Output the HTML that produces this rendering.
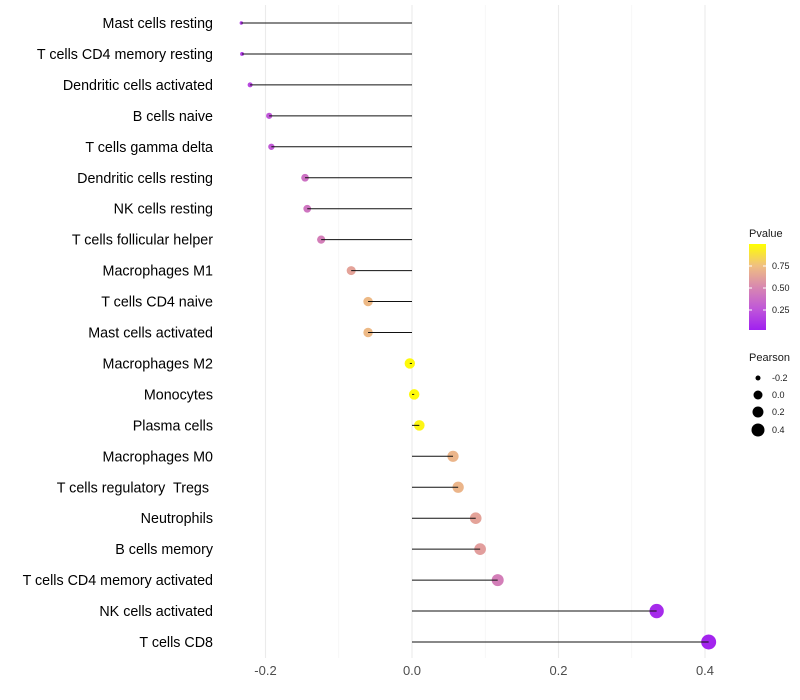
<!DOCTYPE html>
<html><head><meta charset="utf-8"><style>
body{margin:0;background:#fff;font-family:"Liberation Sans",sans-serif}
svg{display:block}
text{white-space:pre}
</style></head><body>
<svg id="chart" width="800" height="700" xmlns="http://www.w3.org/2000/svg">
<defs><linearGradient id="pg" x1="0" y1="1" x2="0" y2="0">
<stop offset="0" stop-color="#a020f0"/><stop offset="0.25" stop-color="#c058d8"/><stop offset="0.5" stop-color="#d888b0"/><stop offset="0.75" stop-color="#f0c080"/><stop offset="1" stop-color="#ffff00"/></linearGradient></defs>
</svg>
<script>
const categories=["Mast cells resting","T cells CD4 memory resting","Dendritic cells activated","B cells naive","T cells gamma delta","Dendritic cells resting","NK cells resting","T cells follicular helper","Macrophages M1","T cells CD4 naive","Mast cells activated","Macrophages M2","Monocytes","Plasma cells","Macrophages M0","T cells regulatory  Tregs ","Neutrophils","B cells memory","T cells CD4 memory activated","NK cells activated","T cells CD8"];
const pearson=[-0.233,-0.232,-0.221,-0.195,-0.192,-0.146,-0.143,-0.124,-0.083,-0.060,-0.060,-0.003,0.003,0.010,0.056,0.063,0.087,0.093,0.117,0.334,0.405];
const pvalue=[0.12,0.12,0.18,0.25,0.26,0.38,0.4,0.45,0.62,0.72,0.72,0.98,0.98,0.96,0.7,0.7,0.62,0.6,0.45,0.05,0.02];
const xTicks=[-0.2,0,0.2,0.4];
const xMinor=[-0.1,0.1,0.3];
const NS="http://www.w3.org/2000/svg";
const svg=document.getElementById('chart');
const X=v=>412+v*732.5;
const Y=i=>23+i*30.95;
const R=v=>1.7+5.8*Math.sqrt(Math.max(0,(v+0.233)/0.638));
const stops=[[0,[160,32,240]],[0.25,[192,88,216]],[0.5,[216,136,176]],[0.75,[240,192,128]],[1,[255,255,0]]];
function col(p){for(let k=0;k<stops.length-1;k++){const a=stops[k],b=stops[k+1];if(p<=b[0]){const t=(p-a[0])/(b[0]-a[0]);return `rgb(${a[1].map((c,j)=>Math.round(c+(b[1][j]-c)*t)).join(',')})`;}}return 'rgb(255,255,0)';}
function el(t,a){const e=document.createElementNS(NS,t);for(const k in a)e.setAttribute(k,a[k]);svg.appendChild(e);return e;}
xMinor.forEach(v=>{const l=el('line',{x1:X(v),x2:X(v),y1:5,y2:658,stroke:'#f3f3f3','stroke-width':0.6});

});
xTicks.forEach(v=>{const l=el('line',{x1:X(v),x2:X(v),y1:5,y2:658,stroke:'#ebebeb','stroke-width':1.1});


const t=el('text',{x:X(v),y:675,'text-anchor':'middle','font-size':13,fill:'#4d4d4d'});t.textContent=v===0?'0.0':v.toFixed(1);

});
categories.forEach((c,i)=>{
const t=el('text',{x:213,y:Y(i)+5,'text-anchor':'end','font-size':14.3,fill:'#000'});t.textContent=c;


const d=el('circle',{cx:X(pearson[i]),cy:Y(i),r:R(pearson[i]),fill:col(pvalue[i])});


const l=el('line',{x1:X(pearson[i]),x2:X(0),y1:Y(i),y2:Y(i),stroke:'#111','stroke-width':1});


});
let e=el('text',{x:749,y:237,'font-size':11,fill:'#1a1a1a'});e.textContent='Pvalue';


e=el('rect',{x:749,y:244,width:17,height:86,fill:'url(#pg)'});


[[0.75,266],[0.50,288],[0.25,310]].forEach(([v,y])=>{el('line',{x1:749,x2:752,y1:y,y2:y,stroke:'#fff'});el('line',{x1:763,x2:766,y1:y,y2:y,stroke:'#fff'});
const t=el('text',{x:772,y:y+3,'font-size':9,fill:'#1a1a1a'});t.textContent=v.toFixed(2);

});
e=el('text',{x:749,y:361,'font-size':11,fill:'#1a1a1a'});e.textContent='Pearson';


[["-0.2",378,2.5],["0.0",395,4.5],["0.2",412,5.5],["0.4",430,6.5]].forEach(([s,y,r])=>{const c=el('circle',{cx:758,cy:y,r:r,fill:'#000'});


const t=el('text',{x:772,y:y+3,'font-size':9,fill:'#1a1a1a'});t.textContent=s;

});
</script>
</body></html>
